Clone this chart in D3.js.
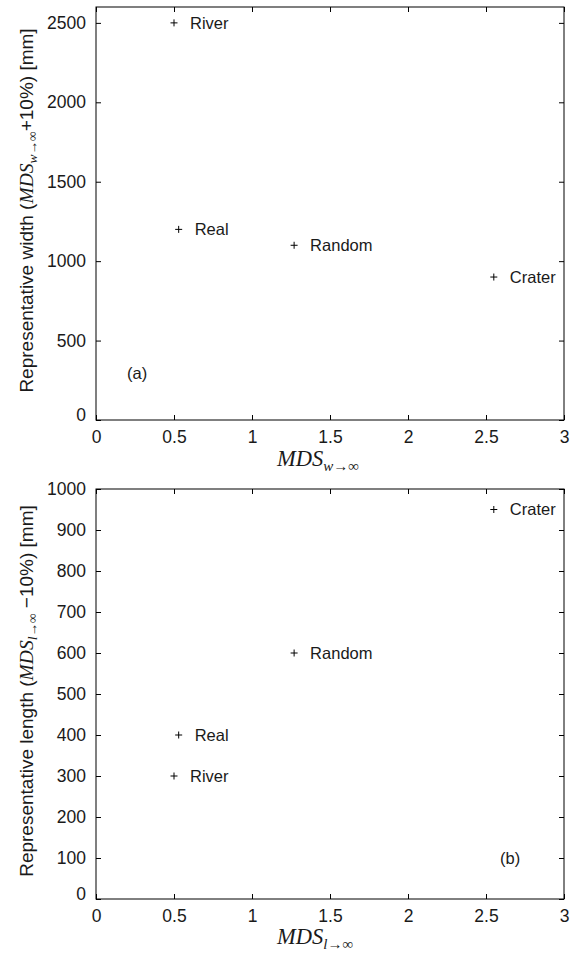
<!DOCTYPE html>
<html>
<head>
<meta charset="utf-8">
<script src="https://cdn.jsdelivr.net/npm/d3@7"></script>
<style>
  html, body { margin: 0; padding: 0; background: #fff; }
  svg { display: block; }
  .tick text { font-family: Arial, "Liberation Sans", sans-serif; font-size: 17.5px; fill: #1a1a1a; }
  .lbl { font-family: Arial, "Liberation Sans", sans-serif; font-size: 16.5px; fill: #1a1a1a; }
  .ylab { font-family: Arial, "Liberation Sans", sans-serif; font-size: 19px; fill: #1a1a1a; }
  .math { font-family: "Liberation Serif", "DejaVu Serif", serif; font-style: italic; }
</style>
</head>
<body>
<svg id="chart" width="575" height="960"></svg>
<script>
// Point names and their coordinates in both panels
const names = ["River", "Real", "Random", "Crater"];
const mdsW = [0.5, 0.53, 1.27, 2.55];
const widthMm = [2500, 1200, 1100, 900];
const mdsL = [0.5, 0.53, 1.27, 2.55];
const lengthMm = [300, 400, 600, 950];

// Tick values
const xTicks = [0, 0.5, 1, 1.5, 2, 2.5, 3];
const yTicksA = [0, 500, 1000, 1500, 2000, 2500];
const yTicksB = [0, 100, 200, 300, 400, 500, 600, 700, 800, 900, 1000];

const svg = d3.select("#chart");
const fmt = d => String(d);

function panel(cfg) {
  const x = d3.scaleLinear().domain([0, 3]).range([96, 564]);
  const y = d3.scaleLinear().domain(cfg.yDomain).range([cfg.bottom, cfg.top]);
  const g = svg.append("g");

  // frame
  g.append("rect")
    .attr("x", x.range()[0]).attr("y", cfg.top)
    .attr("width", x.range()[1] - x.range()[0]).attr("height", cfg.bottom - cfg.top)
    .attr("fill", "none").attr("stroke", "#000").attr("stroke-width", 1);

  // bottom axis: inward ticks and labels
  const xb = g.append("g").attr("transform", `translate(0,${cfg.bottom})`)
    .call(d3.axisBottom(x).tickValues(xTicks).tickFormat(fmt).tickSizeInner(-5).tickSizeOuter(0).tickPadding(13));
  // top axis: ticks only
  const xt = g.append("g").attr("transform", `translate(0,${cfg.top})`)
    .call(d3.axisTop(x).tickValues(xTicks).tickFormat("").tickSizeInner(-5).tickSizeOuter(0));
  // left axis
  const yl = g.append("g").attr("transform", `translate(${x.range()[0]},0)`)
    .call(d3.axisLeft(y).tickValues(cfg.yTicks).tickFormat(fmt).tickSizeInner(-5).tickSizeOuter(0).tickPadding(10));
  // right axis: ticks only
  const yr = g.append("g").attr("transform", `translate(${x.range()[1]},0)`)
    .call(d3.axisRight(y).tickValues(cfg.yTicks).tickFormat("").tickSizeInner(-5).tickSizeOuter(0));

  [xb, xt, yl, yr].forEach(a => {
    a.select(".domain").remove();
    a.selectAll(".tick line").attr("stroke", "#000");
  });
  // lift the zero on the value axis off the corner
  yl.selectAll(".tick").filter(d => d === 0).select("text").attr("dy", "0.0em");
  xb.selectAll(".tick text").attr("dy", "0.55em");

  // markers
  const pts = names.map((n, i) => ({ n, vx: cfg.xs[i], vy: cfg.ys[i] }));
  const m = g.append("g").selectAll("g").data(pts).join("g")
    .attr("transform", d => `translate(${x(d.vx)},${y(d.vy)})`);
  m.append("path").attr("d", "M-3.5,0H3.5M0,-3.5V3.5")
    .attr("stroke", "#000").attr("stroke-width", 1).attr("fill", "none");
  m.append("text").attr("class", "lbl").attr("x", 16).attr("dy", "0.36em").text(d => d.n);

  // panel tag
  g.append("text").attr("class", "lbl")
    .attr("x", cfg.tag[0]).attr("y", cfg.tag[1]).text(cfg.tagText);

  // x-axis title
  const xt2 = g.append("text").attr("x", 277).attr("y", cfg.xTitleY)
    .attr("font-size", 22.5).attr("fill", "#1a1a1a");
  xt2.append("tspan").attr("class", "math").text("MDS");
  xt2.append("tspan").attr("class", "math").attr("font-size", 15).attr("dy", 5).text(cfg.sub);

  // y-axis title
  const cy = (cfg.top + cfg.bottom) / 2 - 3;
  const yt = g.append("text").attr("class", "ylab")
    .attr("transform", `translate(33,${cy}) rotate(-90)`)
    .attr("text-anchor", "middle");
  yt.append("tspan").text(cfg.yPre);
  yt.append("tspan").attr("class", "math").attr("font-size", 19.5).text("MDS");
  yt.append("tspan").attr("class", "math").attr("font-size", 13.5).attr("dy", 4).text(cfg.sub);
  yt.append("tspan").attr("dy", -4).text(cfg.yPost);
}

panel({
  top: 7, bottom: 420, yDomain: [0, 2600], yTicks: yTicksA,
  xs: mdsW, ys: widthMm, sub: "w→∞",
  yPre: "Representative width (", yPost: "+10%) [mm]",
  tag: [127, 379], tagText: "(a)", xTitleY: 466
});

panel({
  top: 489, bottom: 899, yDomain: [0, 1000], yTicks: yTicksB,
  xs: mdsL, ys: lengthMm, sub: "l→∞",
  yPre: "Representative length (", yPost: " −10%) [mm]",
  tag: [500, 864], tagText: "(b)", xTitleY: 944
});
</script>
</body>
</html>
